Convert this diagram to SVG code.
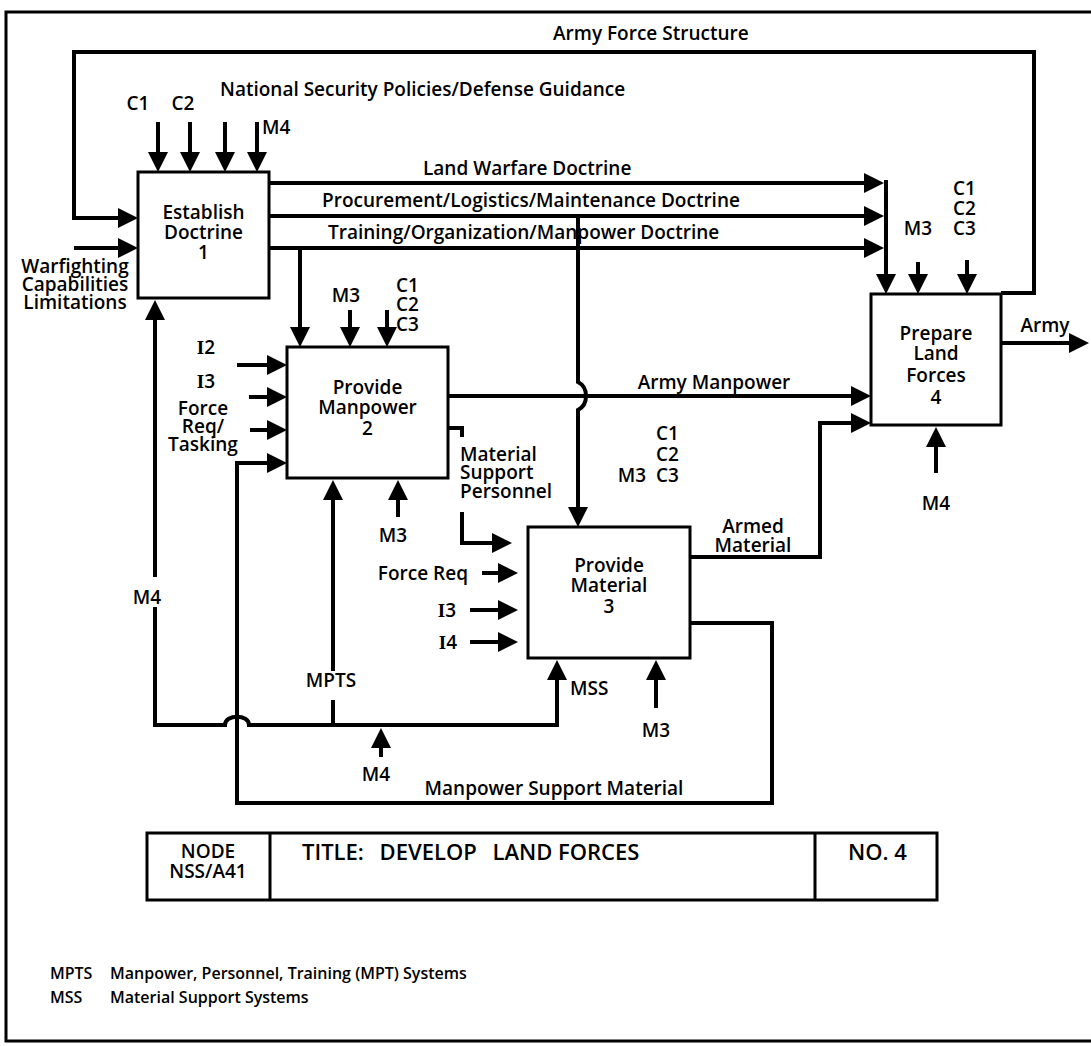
<svg xmlns="http://www.w3.org/2000/svg" width="1091" height="1046" viewBox="0 0 1091 1046">
<style>
text{font-family:"Open Sans","Liberation Sans",sans-serif;font-size:19px;font-weight:600;fill:#000}
.m{text-anchor:middle}
.e{text-anchor:end}
.box{fill:#fff;stroke:#000;stroke-width:3}
.ln{fill:none;stroke:#000;stroke-width:4;stroke-linejoin:miter}
.ar{marker-end:url(#ah)}
.s{font-size:16px}
.sf{font-family:"Liberation Serif",serif;font-weight:bold}
.tt{font-size:22px}
</style>
<defs>
<marker id="ah" markerUnits="userSpaceOnUse" markerWidth="20" markerHeight="20" refX="8" refY="10" orient="auto" viewBox="0 0 20 20"><path d="M0,0 L20,10 L0,20 z" fill="#000"/></marker>
</defs>
<rect width="1091" height="1046" fill="#fff"/>
<path d="M1091,12 H6 V1041 H1091" fill="none" stroke="#000" stroke-width="3"/>

<g id="node1"><rect class="box" x="138" y="172" width="131" height="126"/>
<text class="m"><tspan x="203.5" y="219">Establish</tspan><tspan x="203.5" y="239">Doctrine</tspan><tspan x="203.5" y="259">1</tspan></text></g>
<g id="node2"><rect class="box" x="287" y="347" width="161" height="131"/>
<text class="m"><tspan x="367.5" y="394">Provide</tspan><tspan x="367.5" y="414">Manpower</tspan><tspan x="367.5" y="435">2</tspan></text></g>
<g id="node3"><rect class="box" x="528" y="527" width="162" height="131"/>
<text class="m"><tspan x="609" y="572">Provide</tspan><tspan x="609" y="592">Material</tspan><tspan x="609" y="613">3</tspan></text></g>
<g id="node4"><rect class="box" x="871" y="294" width="130" height="131"/>
<text class="m"><tspan x="936" y="340">Prepare</tspan><tspan x="936" y="360">Land</tspan><tspan x="936" y="382">Forces</tspan><tspan x="936" y="404">4</tspan></text></g>

<g id="labels">
<text x="553" y="40">Army Force Structure</text>
<text x="220" y="96">National Security Policies/Defense Guidance</text>
<text class="m" x="138" y="110">C1</text><text class="m" x="183" y="110">C2</text><text x="262" y="134">M4</text>
<text x="423" y="175">Land Warfare Doctrine</text>
<text x="322" y="207">Procurement/Logistics/Maintenance Doctrine</text>
<text x="328" y="239">Training/Organization/Manpower Doctrine</text>
<text class="m"><tspan x="75" y="273">Warfighting</tspan><tspan x="75" y="291">Capabilities</tspan><tspan x="75" y="309">Limitations</tspan></text>
<text><tspan x="953" y="195">C1</tspan><tspan x="953" y="215">C2</tspan><tspan x="953" y="235">C3</tspan></text>
<text class="m" x="918" y="235">M3</text>
<text class="m" x="1045" y="332">Army</text>
<text class="m" x="936" y="510">M4</text>
<text class="m" x="714" y="389">Army Manpower</text>
<text class="m"><tspan x="753" y="533">Armed</tspan><tspan x="753" y="552">Material</tspan></text>
<text class="m" x="346" y="302">M3</text>
<text><tspan x="396" y="292">C1</tspan><tspan x="396" y="311">C2</tspan><tspan x="396" y="331">C3</tspan></text>
<text class="m" x="206" y="354"><tspan class="sf">I</tspan>2</text>
<text class="m" x="206" y="388"><tspan class="sf">I</tspan>3</text>
<text class="m"><tspan x="203" y="415">Force</tspan><tspan x="203" y="433">Req/</tspan><tspan x="203" y="451">Tasking</tspan></text>
<text><tspan x="460" y="461">Material</tspan><tspan x="460" y="479">Support</tspan><tspan x="460" y="498">Personnel</tspan></text>
<text class="m" x="393" y="542">M3</text>
<text class="m" x="632" y="482">M3</text>
<text><tspan x="656" y="440">C1</tspan><tspan x="656" y="461">C2</tspan><tspan x="656" y="482">C3</tspan></text>
<text class="e" x="468" y="580">Force Req</text>
<text class="m" x="447" y="617"><tspan class="sf">I</tspan>3</text>
<text class="m" x="448" y="649"><tspan class="sf">I</tspan>4</text>
<text class="m" x="147" y="604">M4</text>
<text class="m" x="331" y="687">MPTS</text>
<text x="570" y="695">MSS</text>
<text class="m" x="656" y="737">M3</text>
<text class="m" x="376" y="781">M4</text>
<text class="m" x="554" y="795">Manpower Support Material</text>
</g>

<g id="connectors">
<path class="ln ar" d="M1001,293 H1034 V52 H74 V218 H126"/>
<path class="ln ar" d="M74,248 H126"/>
<path class="ln ar" d="M158,122 V160"/>
<path class="ln ar" d="M190,122 V160"/>
<path class="ln ar" d="M225,122 V160"/>
<path class="ln ar" d="M257,122 V160"/>
<path class="ln ar" d="M269,183 H872"/>
<path class="ln ar" d="M269,216 H872"/>
<path class="ln ar" d="M269,248 H872"/>
<path class="ln ar" d="M886,180 V282"/>
<path class="ln ar" d="M300,248 V335"/>
<path class="ln ar" d="M578,216 V382 Q586,386 586,396 Q586,406 578,410 V515"/>
<path class="ln ar" d="M918,262 V282"/>
<path class="ln ar" d="M967,260 V282"/>
<path class="ln ar" d="M1001,343 H1077"/>
<path class="ln ar" d="M936,473 V439"/>
<path class="ln ar" d="M448,396 H859"/>
<path class="ln ar" d="M690,557 H820 V423 H859"/>
<path class="ln ar" d="M350,310 V335"/>
<path class="ln ar" d="M387,310 V335"/>
<path class="ln ar" d="M237,365 H275"/>
<path class="ln ar" d="M249,397 H275"/>
<path class="ln ar" d="M250,430 H275"/>
<path class="ln ar" d="M690,623 H772 V803 H237 V463 H275"/>
<path class="ln" d="M448,428 H462 V437"/>
<path class="ln ar" d="M462,512 V543 H500"/>
<path class="ln ar" d="M482,573 H506"/>
<path class="ln ar" d="M470,610 H506"/>
<path class="ln ar" d="M470,642 H506"/>
<path class="ln ar" d="M155,577 V312"/>
<path class="ln ar" d="M155,607 V725 H225 C225,714 249,714 249,725 H557 V672"/>
<path class="ln" d="M333,725 V700"/>
<path class="ln ar" d="M333,671 V492"/>
<path class="ln ar" d="M381,757 V740"/>
<path class="ln ar" d="M656,708 V672"/>
<path class="ln ar" d="M398,517 V492"/>
</g>

<g id="title-block">
<rect x="147" y="833" width="790" height="67" fill="none" stroke="#000" stroke-width="3"/>
<path d="M270,833 V900 M815,833 V900" stroke="#000" stroke-width="3"/>
<text class="m"><tspan x="208" y="858">NODE</tspan><tspan x="208" y="878">NSS/A41</tspan></text>
<text class="tt" x="302" y="860">TITLE: <tspan dx="10">DEVELOP </tspan><tspan dx="10">LAND FORCES</tspan></text>
<text class="tt" x="848" y="860">NO. 4</text>
</g>

<g id="legend">
<text class="s" x="50" y="979">MPTS</text><text class="s" x="110" y="979">Manpower, Personnel, Training (MPT) Systems</text>
<text class="s" x="50" y="1003">MSS</text><text class="s" x="110" y="1003">Material Support Systems</text>
</g>
</svg>
